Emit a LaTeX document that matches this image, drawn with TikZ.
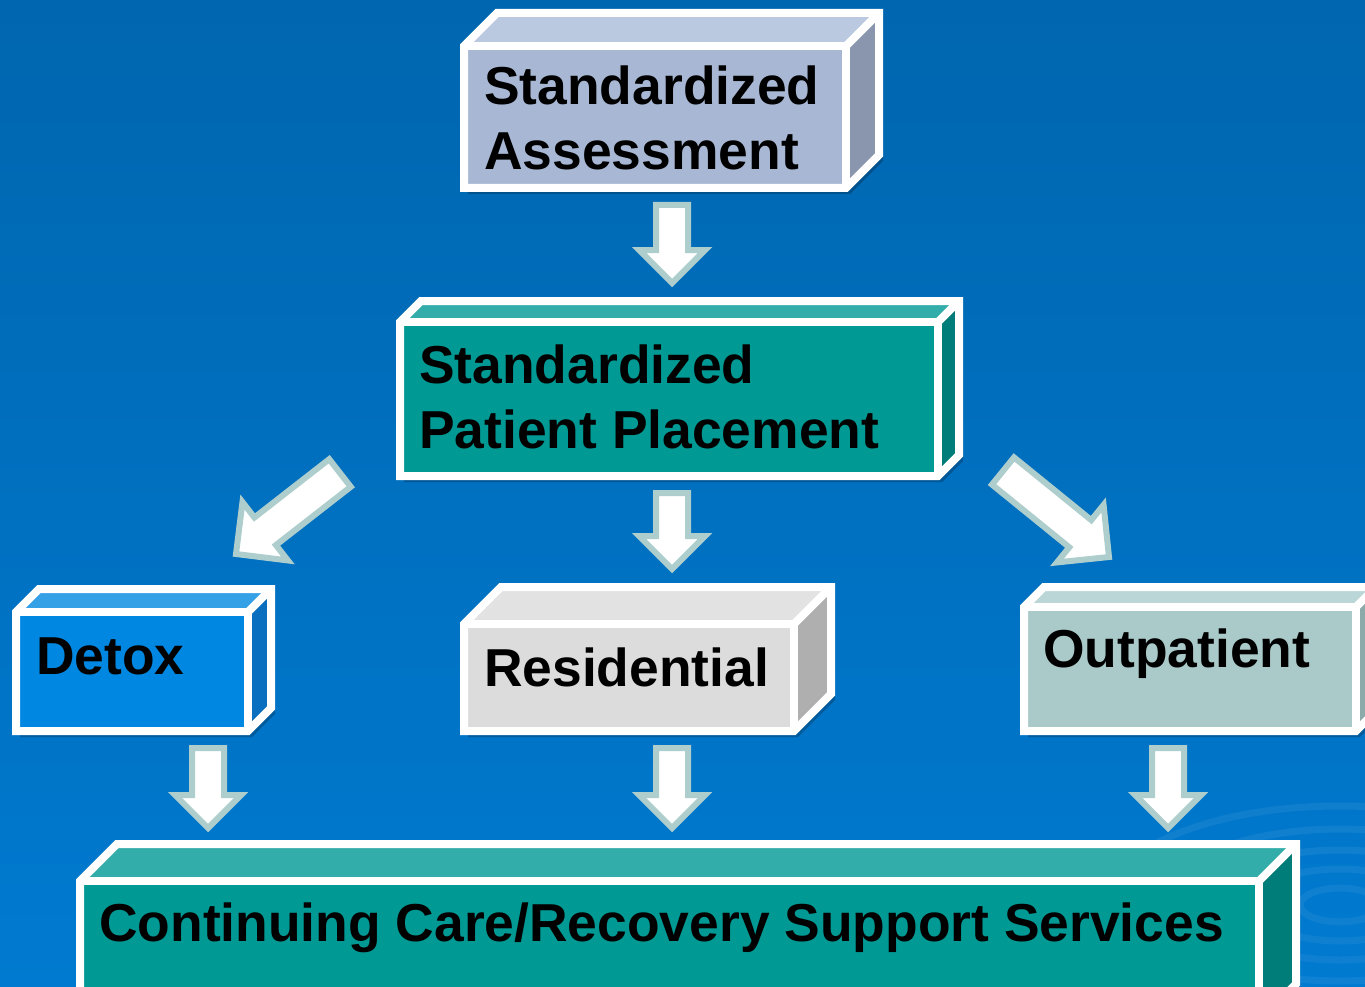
\documentclass[tikz,border=0pt]{standalone}
\usepackage{fontspec}
\setmainfont{Liberation Sans}
\usetikzlibrary{calc}
\definecolor{bgtop}{HTML}{0066AF}
\definecolor{bgmid}{HTML}{006BB7}
\definecolor{bgbot}{HTML}{007AD0}
\definecolor{arrowedge}{HTML}{AECDCD}
\definecolor{saFront}{HTML}{A8B8D4}
\definecolor{saTop}{HTML}{BAC8E0}
\definecolor{saSide}{HTML}{8A96AE}
\definecolor{tealFront}{HTML}{009994}
\definecolor{tealTop}{HTML}{33ADAA}
\definecolor{tealSide}{HTML}{007D78}
\definecolor{dxFront}{HTML}{0087E1}
\definecolor{dxTop}{HTML}{34A0E6}
\definecolor{dxSide}{HTML}{0A6FBF}
\definecolor{rsFront}{HTML}{DCDCDC}
\definecolor{rsTop}{HTML}{E2E2E2}
\definecolor{rsSide}{HTML}{AFAFAF}
\definecolor{opFront}{HTML}{AACACA}
\definecolor{opTop}{HTML}{BAD6D6}
\definecolor{opSide}{HTML}{8CAAAA}
\tikzset{
  frontface/.style={rectangle, inner sep=0pt, outer sep=0pt, anchor=north west},
  edge/.style={draw=white, line width=8pt, line join=miter},
  boxshadow/.style={fill=black, opacity=0.22},
  lbl/.style={font=\fontsize{53.4}{64}\selectfont\bfseries, text=black, inner sep=0pt, anchor=base west},
  blockarr/.style={draw=arrowedge, fill=white, line width=6pt, line join=miter},
  ripple/.style={draw=white, opacity=0.06, line width=7pt}
}
% #1 name, #2 x, #3 y (pixels, down), #4 width, #5 height, #6 depth, #7 front, #8 top, #9 side
\newcommand{\cuboid}[9]{%
  \fill[boxshadow] (#2+4,-#3-#5-6) -- (#2+4,-#3-6) -- (#2+#6+4,-#3+#6-6) -- (#2+#4+#6+4,-#3+#6-6)
     -- (#2+#4+#6+4,-#3-#5+#6-6) -- (#2+#4+4,-#3-#5-6) -- cycle;
  \node[frontface, fill=#7, minimum width=#4pt, minimum height=#5pt] (#1) at (#2,-#3) {};
  \fill[#8] (#1.north west) -- ++(#6,#6) -- ($(#1.north east)+(#6,#6)$) -- (#1.north east) -- cycle;
  \fill[#9] (#1.north east) -- ++(#6,#6) -- ($(#1.south east)+(#6,#6)$) -- (#1.south east) -- cycle;
  \draw[edge] (#1.south west) -- (#1.north west) -- ++(#6,#6) -- ($(#1.north east)+(#6,#6)$)
     -- ($(#1.south east)+(#6,#6)$) -- (#1.south east) -- cycle;
  \draw[edge] (#1.north west) -- (#1.north east) -- (#1.south east);
  \draw[edge] (#1.north east) -- ++(#6,#6);
}
% #1 tail, #2 tip, #3 shaft half width, #4 head half width
\newcommand{\blockarrow}[4]{%
  \draw[blockarr] let \p1=($(#2)-(#1)$), \n1={atan2(\y1,\x1)}, \n2={veclen(\x1,\y1)-#4} in
    (#1) ++(\n1+90:#3) -- ++(\n1:\n2) -- ++(\n1+90:#4-#3) -- ++(\n1-45:#4*1.41421)
    -- ++(\n1-135:#4*1.41421) -- ++(\n1+90:#4-#3) -- ++(\n1+180:\n2) -- cycle;
}
\begin{document}
\begin{tikzpicture}[x=1pt, y=1pt]
\useasboundingbox (0,0) rectangle (1365,-987);
\clip (0,0) rectangle (1365,-987);
\shade[top color=bgtop, middle color=bgmid, bottom color=bgbot] (0,0) rectangle (1365,-987);
\coordinate (rc) at (1340,-905);
\foreach \rx/\ry in {40pt/17pt, 85pt/36pt, 130pt/55pt, 180pt/76pt, 235pt/99pt}
  \draw[ripple] (rc) ellipse [x radius=\rx, y radius=\ry];

% boxes
\cuboid{sa}{464}{46}{382}{142}{33}{saFront}{saTop}{saSide}
\cuboid{spp}{400}{322}{538}{154}{21}{tealFront}{tealTop}{tealSide}
\cuboid{detox}{16}{612}{232}{119}{23}{dxFront}{dxTop}{dxSide}
\cuboid{res}{464}{624}{330}{107}{37}{rsFront}{rsTop}{rsSide}
\cuboid{out}{1024}{607}{332}{124}{20}{opFront}{opTop}{opSide}
\cuboid{ccr}{80}{881}{1179}{140}{37}{tealFront}{tealTop}{tealSide}

% labels
\node[lbl] (sa-l1) at (484,-105) {Standardized};
\node[lbl] (sa-l2) at (484,-170) {Assessment};
\node[lbl] (spp-l1) at (419,-383) {Standardized};
\node[lbl] (spp-l2) at (419,-448) {Patient Placement};
\node[lbl] (detox-l) at (36,-674) {Detox};
\node[lbl] (res-l) at (484,-686) {Residential};
\node[lbl] (out-l) at (1043,-667) {Outpatient};
\node[lbl] (ccr-l) at (99,-941) {Continuing Care/Recovery Support Services};

% arrow ends
\coordinate (a1s) at (672,-205);  \coordinate (a1e) at (672,-283);
\coordinate (a2s) at (672,-493);  \coordinate (a2e) at (672,-569);
\coordinate (a3s) at (340,-473);  \coordinate (a3e) at (236,-554);
\coordinate (a4s) at (1003,-471); \coordinate (a4e) at (1109,-557);
\coordinate (a5s) at (208,-748);  \coordinate (a5e) at (208,-828);
\coordinate (a6s) at (672,-748);  \coordinate (a6e) at (672,-828);
\coordinate (a7s) at (1168,-748); \coordinate (a7e) at (1168,-828);

\blockarrow{a1s}{a1e}{16}{33}
\blockarrow{a2s}{a2e}{16}{33}
\blockarrow{a3s}{a3e}{17.5}{37}
\blockarrow{a4s}{a4e}{17.5}{37}
\blockarrow{a5s}{a5e}{16}{33}
\blockarrow{a6s}{a6e}{16}{33}
\blockarrow{a7s}{a7e}{16}{33}
\end{tikzpicture}
\end{document}
